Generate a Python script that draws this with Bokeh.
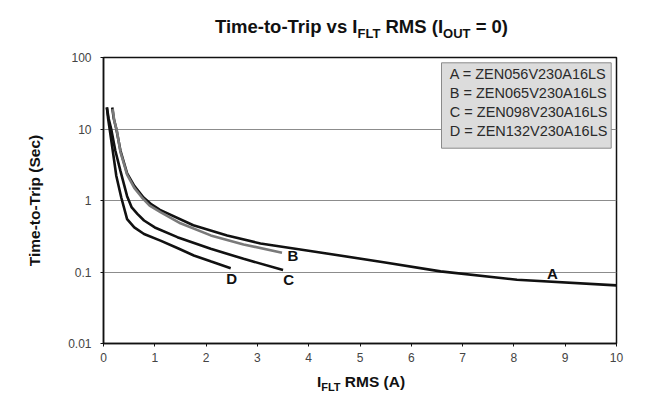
from bokeh.plotting import figure
from bokeh.models import Range1d, FixedTicker, CustomJSTickFormatter, Label, BoxAnnotation, Div
from bokeh.layouts import column
from bokeh.embed import file_html
from bokeh.resources import INLINE

# ---------------- data ----------------
a_x = [0.17, 0.20, 0.25, 0.33, 0.46, 0.60, 0.78, 0.92, 1.10, 1.75, 2.41, 3.06, 4.03, 5.46, 6.57, 8.06, 10.0]
a_y = [20, 14, 10, 5.0, 2.4, 1.6, 1.1, 0.90, 0.74, 0.45, 0.325, 0.25, 0.197, 0.137, 0.102, 0.078, 0.065]

b_x = [0.18, 0.21, 0.26, 0.33, 0.46, 0.60, 0.75, 0.90, 1.11, 1.50, 2.09, 2.73, 3.48]
b_y = [19, 13, 9.5, 4.8, 2.3, 1.5, 1.1, 0.85, 0.69, 0.48, 0.325, 0.243, 0.186]

c_x = [0.066, 0.10, 0.15, 0.23, 0.33, 0.46, 0.55, 0.66, 0.79, 1.00, 1.44, 2.09, 2.73, 3.50]
c_y = [20, 14, 10, 5.0, 2.6, 1.15, 0.80, 0.65, 0.525, 0.42, 0.307, 0.211, 0.153, 0.107]

d_x = [0.066, 0.09, 0.12, 0.18, 0.25, 0.345, 0.46, 0.60, 0.79, 1.11, 1.45, 1.76, 2.10, 2.48]
d_y = [20, 14, 10, 5.0, 2.2, 1.11, 0.55, 0.42, 0.34, 0.275, 0.215, 0.17, 0.14, 0.113]

curve_names = ["A", "B", "C", "D"]
legend_entries = ["A = ZEN056V230A16LS", "B = ZEN065V230A16LS",
                  "C = ZEN098V230A16LS", "D = ZEN132V230A16LS"]
x_ticks = [0, 1, 2, 3, 4, 5, 6, 7, 8, 9, 10]
y_ticks = [0.01, 0.1, 1, 10, 100]
y_tick_labels = ["0.01", "0.1", "1", "10", "100"]
y_axis_title = "Time-to-Trip (Sec)"
title_parts = [("Time-to-Trip vs I", "main"), ("FLT", "sub"), (" RMS (I", "main"),
               ("OUT", "sub"), (" = 0)", "main")]
xlabel_parts = [("I", "main"), ("FLT", "sub"), (" RMS (A)", "main")]

# ---------------- layout (page pixel positions) ----------------
W = 648
TITLE_H = 44
FIG_TOP = TITLE_H
FL, FT, FW, FH = 103, 57, 513, 286          # plot frame on the page
FIG_H = (FT - FIG_TOP) + FH + 28
XL_H = 400 - TITLE_H - FIG_H
FONT = "Liberation Sans"

p = figure(width=W, height=FIG_H, x_range=Range1d(0, 10), y_range=Range1d(0.01, 100),
           y_axis_type="log", output_backend="svg", toolbar_location=None,
           min_border_left=FL, min_border_top=FT - FIG_TOP,
           min_border_right=W - FL - FW, min_border_bottom=FIG_H - (FT - FIG_TOP) - FH)
p.background_fill_color = "white"
p.border_fill_color = "white"
p.outline_line_color = "#111111"
p.outline_line_width = 1.5

# axes
p.xaxis.ticker = FixedTicker(ticks=x_ticks)
p.yaxis.ticker = FixedTicker(ticks=y_ticks)
p.yaxis.formatter = CustomJSTickFormatter(code="return tick.toString()")
p.yaxis.major_label_overrides = dict(zip(y_ticks, y_tick_labels))
for ax in (p.xaxis, p.yaxis):
    ax.axis_line_color = "#111111"
    ax.axis_line_width = 1.5
    ax.major_tick_line_color = "#111111"
    ax.major_tick_line_width = 1
    ax.major_tick_in = 0
    ax.major_tick_out = 3
    ax.minor_tick_line_color = None
    ax.major_label_text_font = FONT
    ax.major_label_text_font_size = "12px"
    ax.major_label_text_color = "#444444"
p.xaxis.major_label_standoff = 6
p.yaxis.major_label_standoff = 9
p.yaxis.axis_label = y_axis_title
p.yaxis.axis_label_text_font = FONT
p.yaxis.axis_label_text_font_style = "bold"
p.yaxis.axis_label_text_font_size = "15.5px"
p.yaxis.axis_label_text_color = "#111111"
p.yaxis.axis_label_standoff = 22

p.xgrid.grid_line_color = None
p.ygrid.grid_line_color = "#8c8c8c"
p.ygrid.grid_line_width = 1

# curves
p.line(a_x, a_y, line_color="#111111", line_width=2.6)
p.line(c_x, c_y, line_color="#111111", line_width=2.6)
p.line(d_x, d_y, line_color="#111111", line_width=2.6)
p.line(b_x, b_y, line_color="#7a7a7a", line_width=2.6)

# ---------------- helpers: page pixel -> data ----------------
def dx(px):
    return (px - FL) / (FW / 10.0)

def dy(py):
    return 10 ** (2 - (py - FT) / (FH / 4.0))

# curve letters
letter_pos = [(8.75, 0.0966), (3.69, 0.171), (3.61, 0.0789), (2.50, 0.0807)]
for name, (lx, ly) in zip(curve_names, letter_pos):
    p.add_layout(Label(x=lx, y=ly, text=name, text_font=FONT, text_font_style="bold",
                       text_font_size="15px", text_color="#111111",
                       text_align="center", text_baseline="middle"))

# legend box
p.add_layout(BoxAnnotation(left=dx(441), right=dx(610.7), top=dy(62.3), bottom=dy(147.7),
                           fill_color="#dcdcdc", fill_alpha=1.0,
                           line_color="#8a8a8a", line_width=1, line_alpha=1.0))
row_y = [73.3, 92.7, 111.7, 130.0]
for txt, ry in zip(legend_entries, row_y):
    p.add_layout(Label(x=dx(449.3), y=dy(ry), text=txt, text_font=FONT,
                       text_font_size="14.5px", text_color="#2a2a2a",
                       text_align="left", text_baseline="middle"))

# ---------------- title and x-axis label (HTML, with subscripts) ----------------
def html_text(parts, sub_px, drop_px):
    out = []
    for t, kind in parts:
        if kind == "sub":
            out.append(f'<span style="font-size:{sub_px}px;position:relative;'
                       f'top:{drop_px}px">{t}</span>')
        else:
            out.append(t.replace(" ", "&nbsp;"))
    return "".join(out)

def label_div(parts, height, center_x, pad_top, main_px, sub_px, drop_px, line_h):
    pad_left = max(0, 2 * center_x - W)
    html = (f'<div style="box-sizing:border-box;width:{W}px;padding-left:{pad_left}px;'
            f'padding-top:{pad_top}px;text-align:center;white-space:nowrap;'
            f'font-family:\'{FONT}\';font-weight:bold;font-size:{main_px}px;'
            f'line-height:{line_h}px;color:#111111">'
            f'{html_text(parts, sub_px, drop_px)}</div>')
    return Div(text=html, width=W, height=height, margin=0)

title_div = label_div(title_parts, TITLE_H, 361.5, 16, 18.5, 13, 4.5, 22)
xlabel_div = label_div(xlabel_parts, XL_H, 361, 2, 15.5, 11, 4, 18)

layout = column(title_div, p, xlabel_div, spacing=0)
open("out.html", "w").write(file_html(layout, INLINE))
